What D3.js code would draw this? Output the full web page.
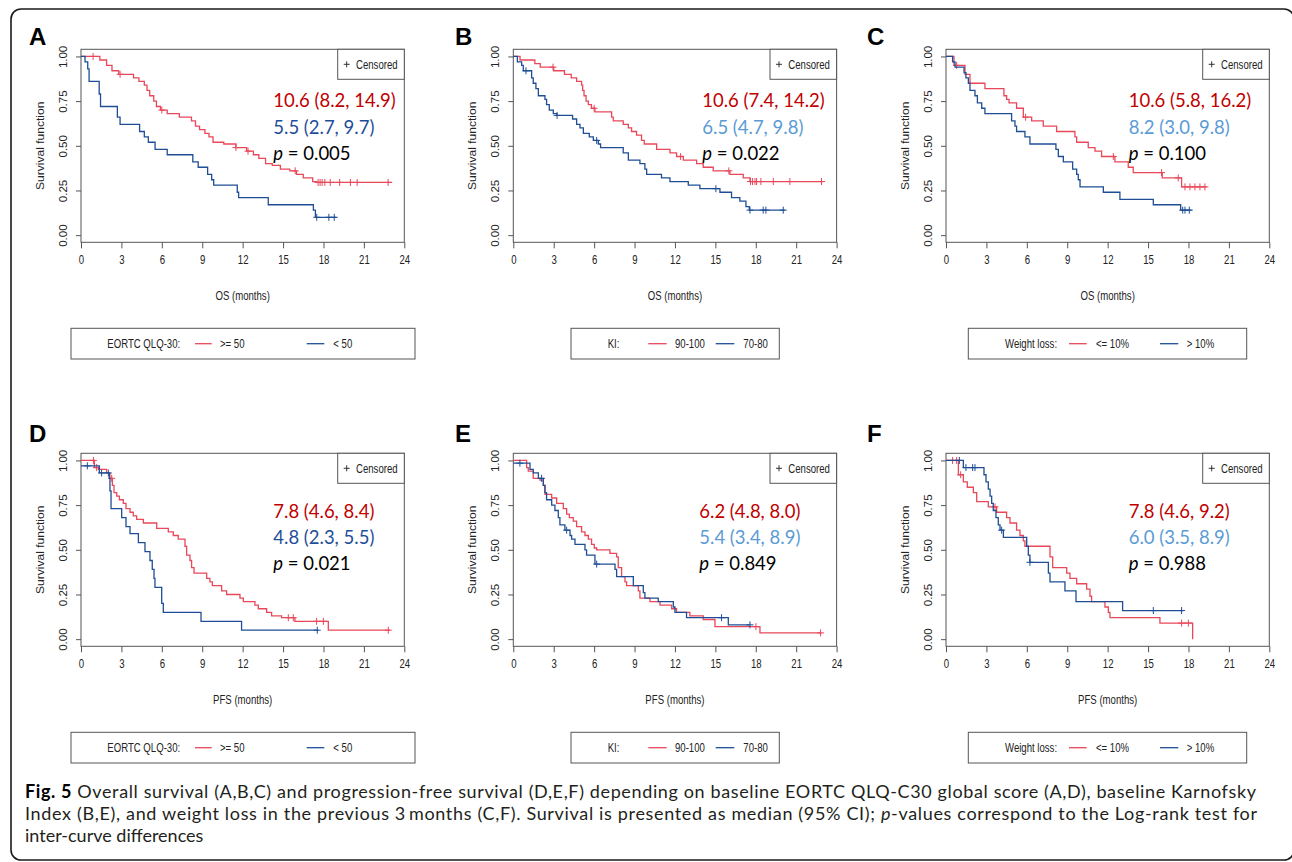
<!DOCTYPE html>
<html><head><meta charset="utf-8">
<script src="https://cdn.jsdelivr.net/npm/d3@7"></script>
<style>body{margin:0;background:#fff}svg{display:block}</style>
</head><body>
<svg id="c" width="1292" height="862"></svg>
<script>
// ---------------- DATA ----------------
const xTicks = [0, 3, 6, 9, 12, 15, 18, 21, 24];
const yTicks = [0, 0.25, 0.5, 0.75, 1];
const yTickLabels = ["0.00", "0.25", "0.50", "0.75", "1.00"];
const panelLetters = ["A", "B", "C", "D", "E", "F"];
const xTitles = ["OS (months)", "OS (months)", "OS (months)", "PFS (months)", "PFS (months)", "PFS (months)"];
const groupTitles = ["EORTC QLQ-30:", "KI:", "Weight loss:", "EORTC QLQ-30:", "KI:", "Weight loss:"];
const redLabels = [">= 50", "90-100", "<= 10%", ">= 50", "90-100", "<= 10%"];
const blueLabels = ["< 50", "70-80", "> 10%", "< 50", "70-80", "> 10%"];
const redMedians = ["10.6 (8.2, 14.9)", "10.6 (7.4, 14.2)", "10.6 (5.8, 16.2)", "7.8 (4.6, 8.4)", "6.2 (4.8, 8.0)", "7.8 (4.6, 9.2)"];
const blueMedians = ["5.5 (2.7, 9.7)", "6.5 (4.7, 9.8)", "8.2 (3.0, 9.8)", "4.8 (2.3, 5.5)", "5.4 (3.4, 8.9)", "6.0 (3.5, 8.9)"];
const pValues = ["0.005", "0.022", "0.100", "0.021", "0.849", "0.988"];

// Kaplan-Meier steps: [time (months), survival after event]
const osQolHigh = [[0,1],[1.4,0.98],[1.9,0.95],[2.3,0.92],[2.8,0.90],[3.9,0.88],[4.3,0.86],[4.7,0.84],[4.9,0.81],[5.1,0.78],[5.4,0.75],[5.6,0.72],[5.9,0.70],[6.4,0.68],[7.3,0.66],[8.2,0.64],[8.5,0.61],[8.8,0.59],[9.2,0.57],[9.5,0.55],[9.8,0.52],[10.6,0.51],[11.5,0.49],[12.3,0.47],[12.8,0.45],[13.2,0.43],[13.7,0.40],[14.2,0.39],[14.8,0.37],[15.5,0.36],[16.0,0.34],[16.5,0.32],[17.2,0.30],[17.5,0.295]];
const osQolHighCens = [0.9, 2.9, 6.0, 11.5, 12.4, 15.9, 17.6, 17.75, 17.9, 18.1, 18.5, 19.2, 20.0, 20.5, 22.8];
const osQolHighEnd = 23.1;
const osQolLow = [[0,1],[0.3,0.97],[0.5,0.93],[0.6,0.86],[1.35,0.79],[1.45,0.72],[2.7,0.66],[2.9,0.62],[4.35,0.58],[4.7,0.55],[5.0,0.52],[5.5,0.48],[6.4,0.45],[8.3,0.41],[8.7,0.38],[9.4,0.34],[9.7,0.31],[9.85,0.28],[11.6,0.24],[11.7,0.21],[13.9,0.17],[17.25,0.14],[17.4,0.10]];
const osQolLowCens = [17.5, 18.4, 18.8];
const osQolLowEnd = 18.95;

const osKiHigh = [[0,1],[0.5,0.98],[1.6,0.96],[2.0,0.94],[3.0,0.92],[3.8,0.90],[4.3,0.88],[4.7,0.86],[5.07,0.84],[5.15,0.81],[5.25,0.78],[5.4,0.75],[5.57,0.73],[5.8,0.71],[6.06,0.69],[7.3,0.66],[7.42,0.64],[8.16,0.62],[8.54,0.60],[8.78,0.58],[9.15,0.56],[9.52,0.53],[9.72,0.51],[10.64,0.48],[11.63,0.46],[12.12,0.44],[12.62,0.42],[13.61,0.40],[14.1,0.38],[14.84,0.36],[16.08,0.34],[17.07,0.32],[17.57,0.30]];
const osKiHighCens = [2.95, 6.0, 12.42, 16.0, 17.61, 17.76, 17.94, 18.06, 18.38, 19.3, 20.53, 22.88];
const osKiHighEnd = 23.0;
const osKiLow = [[0,1],[0.3,0.97],[0.62,0.95],[0.74,0.92],[1.36,0.88],[1.48,0.85],[1.68,0.82],[1.86,0.78],[2.35,0.76],[2.47,0.73],[2.67,0.70],[2.97,0.68],[3.22,0.67],[4.4,0.65],[4.7,0.62],[4.95,0.60],[5.2,0.57],[5.64,0.55],[5.94,0.53],[6.31,0.51],[6.48,0.49],[8.16,0.46],[8.54,0.42],[9.4,0.40],[9.77,0.37],[9.9,0.34],[11.0,0.32],[11.63,0.30],[12.99,0.28],[13.85,0.26],[15.34,0.24],[16.2,0.21],[16.82,0.19],[17.27,0.16],[17.52,0.14]];
const osKiLowCens = [0.94, 3.25, 6.19, 15.04, 17.57, 18.55, 18.75, 20.04];
const osKiLowEnd = 20.16;

const osWlLow = [[0,1],[0.59,0.95],[1.41,0.90],[1.78,0.85],[2.89,0.82],[4.3,0.78],[4.5,0.76],[4.68,0.74],[5.24,0.71],[5.74,0.66],[6.36,0.64],[7.22,0.61],[8.21,0.58],[9.57,0.55],[9.7,0.52],[10.56,0.49],[11.06,0.47],[11.55,0.44],[12.54,0.41],[13.53,0.38],[13.9,0.35],[16.05,0.32],[17.49,0.27]];
const osWlLowCens = [0.79, 5.91, 12.42, 16.0, 17.24, 17.74, 18.11, 18.48, 18.85, 19.22];
const osWlLowEnd = 19.35;
const osWlHigh = [[0,1],[0.49,0.97],[0.67,0.94],[1.34,0.91],[1.48,0.88],[1.66,0.85],[1.78,0.81],[2.15,0.78],[2.33,0.74],[2.65,0.71],[2.89,0.68],[4.87,0.64],[5.12,0.61],[5.24,0.58],[5.86,0.55],[6.23,0.51],[8.16,0.48],[8.34,0.44],[8.71,0.41],[9.4,0.37],[9.7,0.34],[9.82,0.31],[9.95,0.27],[11.68,0.24],[12.91,0.20],[15.39,0.17],[17.42,0.14]];
const osWlHighCens = [17.57, 17.74, 18.06];
const osWlHighEnd = 18.23;

const pfsQolHigh = [[0,1],[0.99,0.96],[1.29,0.95],[1.9,0.93],[2.15,0.90],[2.33,0.86],[2.45,0.82],[2.65,0.80],[2.85,0.78],[3.14,0.76],[3.34,0.73],[3.64,0.71],[3.88,0.69],[4.13,0.67],[4.63,0.65],[5.62,0.62],[6.48,0.60],[6.85,0.58],[7.22,0.56],[7.72,0.52],[7.84,0.47],[8.09,0.44],[8.21,0.40],[8.39,0.37],[9.33,0.34],[9.57,0.32],[9.75,0.30],[10.44,0.27],[10.81,0.25],[11.8,0.23],[12.05,0.21],[12.91,0.19],[13.16,0.17],[13.78,0.15],[14.15,0.13],[14.89,0.12],[15.88,0.10],[18.36,0.05]];
const pfsQolHighCens = [0.92, 1.16, 2.28, 15.39, 15.76, 17.49, 17.99, 22.81];
const pfsQolHighEnd = 22.93;
const pfsQolLow = [[0,0.97],[1.36,0.93],[2.1,0.90],[2.15,0.83],[2.23,0.73],[3.02,0.68],[3.34,0.63],[3.64,0.59],[4.26,0.54],[4.75,0.49],[5.12,0.44],[5.29,0.39],[5.42,0.34],[5.49,0.29],[5.99,0.20],[6.11,0.15],[8.91,0.10],[11.92,0.05]];
const pfsQolLowCens = [0.47, 1.53, 2.03, 17.54];
const pfsQolLowEnd = 17.62;

const pfsKiHigh = [[0,1],[0.99,0.96],[1.11,0.94],[1.48,0.90],[1.98,0.89],[2.23,0.86],[2.35,0.81],[2.85,0.79],[3.22,0.76],[3.71,0.73],[3.96,0.70],[4.16,0.68],[4.45,0.66],[4.7,0.63],[5.07,0.60],[5.32,0.58],[5.57,0.56],[5.81,0.53],[6.01,0.51],[6.19,0.50],[7.17,0.48],[7.67,0.46],[7.79,0.40],[8.04,0.35],[8.29,0.32],[8.41,0.30],[9.28,0.27],[9.4,0.23],[10.14,0.21],[10.89,0.19],[11.75,0.17],[12.12,0.15],[13.11,0.13],[14.1,0.11],[14.97,0.07],[18.31,0.035]];
const pfsKiHighCens = [18.01, 22.81];
const pfsKiHighEnd = 22.88;
const pfsKiLow = [[0,0.985],[1.24,0.95],[1.48,0.93],[1.86,0.90],[2.23,0.86],[2.35,0.82],[2.47,0.78],[2.85,0.75],[3.09,0.72],[3.34,0.68],[3.46,0.64],[3.83,0.61],[4.21,0.58],[4.33,0.56],[4.58,0.53],[5.32,0.50],[5.44,0.47],[6.06,0.42],[7.55,0.39],[7.67,0.35],[8.91,0.30],[9.65,0.26],[9.77,0.23],[10.76,0.21],[11.88,0.18],[12.0,0.15],[12.86,0.12],[15.96,0.08]];
const pfsKiLowCens = [0.49, 2.1, 3.96, 6.19, 15.46, 17.57];
const pfsKiLowEnd = 17.57;

const pfsWlLow = [[0,1],[0.92,0.92],[1.29,0.88],[1.58,0.85],[2.03,0.82],[2.28,0.77],[3.14,0.74],[3.76,0.71],[4.5,0.68],[4.75,0.65],[5.24,0.61],[5.49,0.58],[5.74,0.55],[5.86,0.52],[7.72,0.46],[7.92,0.40],[8.96,0.37],[9.2,0.34],[9.7,0.31],[10.44,0.28],[10.69,0.24],[10.81,0.21],[11.8,0.18],[12.05,0.15],[12.17,0.12],[15.88,0.09],[18.31,0]];
const pfsWlLowCens = [0.49, 0.79, 1.09, 3.64, 17.49, 17.99];
const pfsWlLowEnd = 18.31;
const pfsWlHigh = [[0,1],[1.29,0.96],[2.82,0.92],[2.97,0.88],[3.14,0.84],[3.27,0.80],[3.39,0.76],[3.51,0.72],[3.71,0.68],[3.88,0.64],[4.01,0.61],[4.26,0.57],[5.99,0.52],[6.11,0.47],[6.23,0.43],[7.6,0.37],[7.72,0.32],[8.83,0.27],[9.65,0.21],[13.11,0.16]];
const pfsWlHighCens = [0.99, 1.48, 1.98, 2.15, 4.13, 6.23, 15.39, 17.49];
const pfsWlHighEnd = 17.62;

const redSeries = [osQolHigh, osKiHigh, osWlLow, pfsQolHigh, pfsKiHigh, pfsWlLow];
const redCens = [osQolHighCens, osKiHighCens, osWlLowCens, pfsQolHighCens, pfsKiHighCens, pfsWlLowCens];
const redEnds = [osQolHighEnd, osKiHighEnd, osWlLowEnd, pfsQolHighEnd, pfsKiHighEnd, pfsWlLowEnd];
const blueSeries = [osQolLow, osKiLow, osWlHigh, pfsQolLow, pfsKiLow, pfsWlHigh];
const blueCens = [osQolLowCens, osKiLowCens, osWlHighCens, pfsQolLowCens, pfsKiLowCens, pfsWlHighCens];
const blueEnds = [osQolLowEnd, osKiLowEnd, osWlHighEnd, pfsQolLowEnd, pfsKiLowEnd, pfsWlHighEnd];

// ---------------- LAYOUT / STYLE ----------------
const RED = "#e8485a", BLUE = "#1f4e96";
const ANN_RED = "#c00000", ANN_DBLUE = "#1f4e99", ANN_LBLUE = "#5b9bd5";
const annBlueColors = [ANN_DBLUE, ANN_LBLUE, ANN_LBLUE, ANN_DBLUE, ANN_LBLUE, ANN_LBLUE];
const colX = [81, 513.3, 946], colW = 323.3;
const rowY = [49.3, 453.3], rowH = 193;
const letterX = [29, 455, 867];
const letterBase = [45, 441.5];
const annX = [[273.3, 702.3, 1128.7], [273.3, 699.3, 1128.7]];
const annCenters = [[100.7, 127.7, 153.3], [511.7, 537.7, 563.3]];
// legend offsets relative to plot left: [boxL, boxR, title, redL, redR, redText, blueL, blueR, blueText]
const legOff = [
  [-10, 334, 26.3, 114, 130.7, 139, 225.7, 243.3, 252.3],
  [57.7, 266, 94.4, 135, 153.4, 161.7, 202.4, 221, 230],
  [22.3, 300.7, 59, 123, 140.7, 150, 214, 232.3, 240.7]
];
const RFONT = "'Liberation Sans', Arial, sans-serif";

const svg = d3.select("#c");
svg.append("rect").attr("x", 11).attr("y", 9).attr("width", 1283).attr("height", 851)
  .attr("rx", 10).attr("fill", "none").attr("stroke", "#1a1a1a").attr("stroke-width", 1.6);

function rtext(g, x, yc, s, anchor) {
  return g.append("text").attr("transform", `translate(${x},${yc + 4.3}) scale(0.8,1)`)
    .attr("font-family", RFONT).attr("font-size", 12).attr("fill", "#222")
    .attr("text-anchor", anchor || "start").text(s);
}

function kmPath(steps, end, x, y) {
  const pts = [];
  pts.push([steps[0][0], steps[0][1]]);
  for (let k = 1; k < steps.length; k++) {
    pts.push([steps[k][0], steps[k - 1][1]]);
    pts.push([steps[k][0], steps[k][1]]);
  }
  pts.push([Math.max(end, steps[steps.length - 1][0]), steps[steps.length - 1][1]]);
  return d3.line().x(d => x(d[0])).y(d => y(d[1]))(pts);
}
function survAt(steps, t) {
  let s = steps[0][1];
  for (const e of steps) if (e[0] <= t) s = e[1];
  return s;
}

panelLetters.forEach((L, i) => {
  const c = i % 3, r = Math.floor(i / 3);
  const x0 = colX[c], y0 = rowY[r];
  const x = d3.scaleLinear().domain([0, 24]).range([x0, x0 + colW]);
  const y = d3.scaleLinear().domain([-0.04, 1.04]).range([y0 + rowH, y0]);
  const g = svg.append("g");

  // panel letter
  g.append("text").attr("x", letterX[c]).attr("y", letterBase[r])
    .attr("font-family", RFONT).attr("font-weight", "bold").attr("font-size", 24)
    .attr("fill", "#000").text(L);

  // axes
  const xa = g.append("g").attr("transform", `translate(0,${y0 + rowH})`)
    .call(d3.axisBottom(x).tickValues(xTicks).tickSize(6).tickSizeOuter(0).tickPadding(3));
  xa.select(".domain").remove();
  xa.selectAll(".tick line").attr("stroke", "#555");
  xa.selectAll(".tick text").attr("font-family", RFONT).attr("font-size", 12).attr("fill", "#222")
    .attr("transform", "scale(0.8,1)").attr("y", 13).attr("dy", "0.71em");

  const ya = g.append("g").attr("transform", `translate(${x0},0)`)
    .call(d3.axisLeft(y).tickValues(yTicks).tickFormat((d, k) => yTickLabels[k]).tickSize(5).tickSizeOuter(0));
  ya.select(".domain").remove();
  ya.selectAll(".tick line").attr("stroke", "#555");
  ya.selectAll(".tick text").attr("x", null).attr("dy", null)
    .attr("font-family", RFONT).attr("font-size", 10).attr("fill", "#222")
    .attr("text-anchor", "middle").attr("transform", "translate(-14,0) rotate(-90) scale(1.15,1)");

  // box
  g.append("rect").attr("x", x0).attr("y", y0).attr("width", colW).attr("height", rowH)
    .attr("fill", "none").attr("stroke", "#555").attr("stroke-width", 1);

  // axis titles
  rtext(g, x0 + colW / 2, y0 + rowH + 53.5, xTitles[i], "middle");
  g.append("text").attr("transform", `translate(${x0 - 37.5},${y0 + rowH / 2}) rotate(-90) scale(1.15,1)`)
    .attr("font-family", RFONT).attr("font-size", 10.5).attr("fill", "#222")
    .attr("text-anchor", "middle").text("Survival function");

  // censored legend
  const cbx = x0 + colW - 66.6;
  g.append("rect").attr("x", cbx).attr("y", y0).attr("width", 66.6).attr("height", 30)
    .attr("fill", "#fff").attr("stroke", "#555");
  g.append("path").attr("d", `M${cbx + 6},${y0 + 15}h6M${cbx + 9},${y0 + 12}v6`).attr("stroke", "#333").attr("stroke-width", 1);
  rtext(g, cbx + 18.3, y0 + 15, "Censored");

  // curves
  [[redSeries[i], redEnds[i], redCens[i], RED], [blueSeries[i], blueEnds[i], blueCens[i], BLUE]].forEach(([st, en, ce, col]) => {
    g.append("path").attr("d", kmPath(st, en, x, y)).attr("fill", "none")
      .attr("stroke", col).attr("stroke-width", 1.3);
    g.selectAll(null).data(ce).enter().append("path")
      .attr("d", t => { const px = x(t), py = y(survAt(st, t)); return `M${px - 3.5},${py}h7M${px},${py - 3.5}v7`; })
      .attr("stroke", col).attr("stroke-width", 1).attr("fill", "none");
  });

  // annotations
  const ax = annX[r][c], ac = annCenters[r];
  const AF = "Lato, 'Open Sans', sans-serif", AS = 18.5;
  g.append("text").attr("x", ax).attr("y", ac[0] + 6.7).attr("font-family", AF).attr("font-size", AS)
    .attr("fill", ANN_RED).text(redMedians[i]);
  g.append("text").attr("x", ax).attr("y", ac[1] + 6.7).attr("font-family", AF).attr("font-size", AS)
    .attr("fill", annBlueColors[i]).text(blueMedians[i]);
  const pt = g.append("text").attr("x", ax).attr("y", ac[2] + 6.7).attr("font-family", AF).attr("font-size", AS).attr("fill", "#000");
  pt.append("tspan").attr("font-style", "italic").text("p");
  pt.append("tspan").text(" = " + pValues[i]);

  // group legend
  const lo = legOff[c];
  const lt = y0 + rowH + 86, lc = lt + 15.4;
  g.append("rect").attr("x", x0 + lo[0]).attr("y", lt).attr("width", lo[1] - lo[0]).attr("height", 30.7)
    .attr("fill", "#fff").attr("stroke", "#555");
  rtext(g, x0 + lo[2], lc, groupTitles[i]);
  g.append("line").attr("x1", x0 + lo[3]).attr("x2", x0 + lo[4]).attr("y1", lc).attr("y2", lc).attr("stroke", RED).attr("stroke-width", 1.3);
  rtext(g, x0 + lo[5], lc, redLabels[i]);
  g.append("line").attr("x1", x0 + lo[6]).attr("x2", x0 + lo[7]).attr("y1", lc).attr("y2", lc).attr("stroke", BLUE).attr("stroke-width", 1.3);
  rtext(g, x0 + lo[8], lc, blueLabels[i]);
});

// caption
const CF = "Lato, 'Open Sans', sans-serif", CS = 18;
const cap1 = svg.append("text").attr("x", 25).attr("y", 798).attr("font-family", CF).attr("font-size", CS)
  .attr("fill", "#231f20").attr("textLength", 1231).attr("lengthAdjust", "spacing");
cap1.append("tspan").attr("font-weight", "bold").attr("fill", "#000").text("Fig. 5");
cap1.append("tspan").text(" Overall survival (A,B,C) and progression-free survival (D,E,F) depending on baseline EORTC QLQ-C30 global score (A,D), baseline Karnofsky");
const cap2 = svg.append("text").attr("x", 25).attr("y", 820).attr("font-family", CF).attr("font-size", CS)
  .attr("fill", "#231f20").attr("textLength", 1232).attr("lengthAdjust", "spacing");
cap2.append("tspan").text("Index (B,E), and weight loss in the previous 3\u2009months (C,F). Survival is presented as median (95% CI); ");
cap2.append("tspan").attr("font-style", "italic").text("p");
cap2.append("tspan").text("-values correspond to the Log-rank test for");
svg.append("text").attr("x", 25).attr("y", 842).attr("font-family", CF).attr("font-size", CS)
  .attr("fill", "#231f20").text("inter-curve differences");
</script>
</body></html>
